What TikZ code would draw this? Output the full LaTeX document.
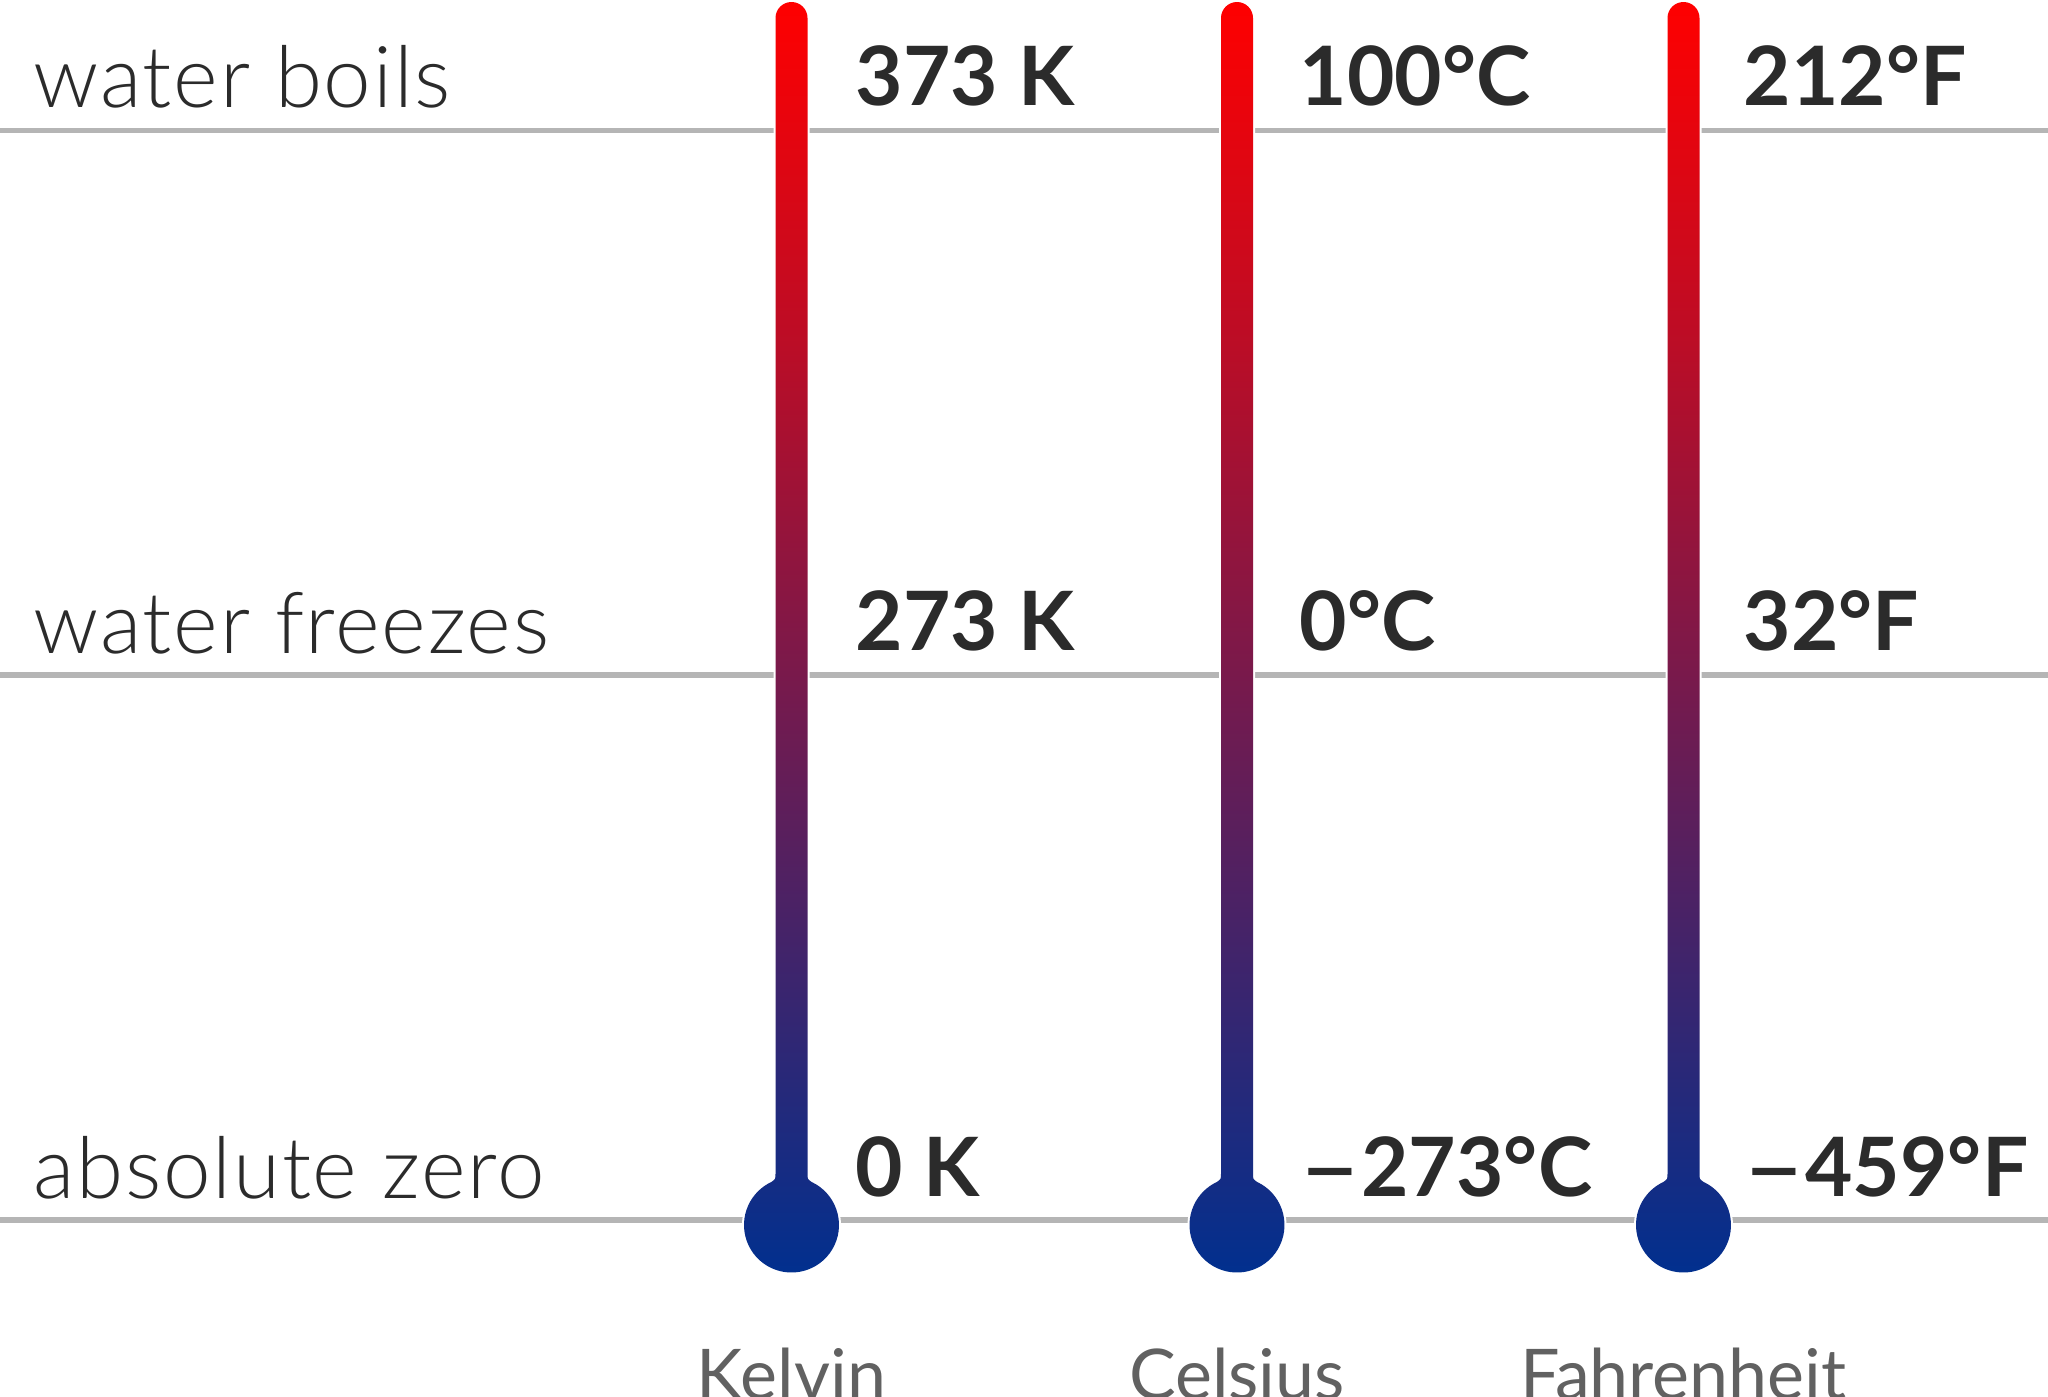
\documentclass[tikz,border=0pt]{standalone}
\usepackage{fontspec}
\setmainfont{Lato}
\newfontfamily\lightfont{Lato Light}[LetterSpace=2.0]

\definecolor{inkdark}{HTML}{2B2B2B}
\definecolor{scalegray}{HTML}{616161}
\definecolor{rulegray}{HTML}{B5B5B5}
\definecolor{hotred}{HTML}{FF0000}
\definecolor{coldblue}{HTML}{00308F}

\newcommand{\minus}{\scalebox{1.3}[1]{–}}

\begin{document}
\begin{tikzpicture}[
    event/.style={anchor=base west, inner sep=0pt, text=inkdark,
                  font=\lightfont\fontsize{24.3}{28}\selectfont},
    reading/.style={anchor=base west, inner sep=0pt, text=inkdark,
                    font=\bfseries\fontsize{23.3}{28}\selectfont},
    scalename/.style={anchor=base, inner sep=0pt, text=scalegray,
                      font=\fontsize{19.9}{24}\selectfont},
    rule/.style={draw=rulegray, line width=0.055cm},
    halo/.style={draw=white, line width=0.04cm},
    tube/.style={top color=hotred, bottom color=coldblue}]
  \useasboundingbox (0,0) rectangle (20.48,-13.96);
  % reference lines
  \foreach \y in {1.305, 6.75, 12.20}
    \draw[rule] (0,-\y) -- (20.48,-\y);
  % thermometers
  \foreach \x in {7.915, 12.37, 16.835} {
    \draw[halo] (\x-0.16,-0.18) arc[start angle=180, end angle=0, radius=0.16]
      -- (\x+0.16,-11.74) .. controls (\x+0.16,-11.79) .. (\x+0.2007,-11.8195)
      arc[start angle=65, end angle=-245, radius=0.475]
      .. controls (\x-0.16,-11.79) .. (\x-0.16,-11.74) -- cycle;
    \shade[tube] (\x-0.16,-0.18) arc[start angle=180, end angle=0, radius=0.16]
      -- (\x+0.16,-11.74) .. controls (\x+0.16,-11.79) .. (\x+0.2007,-11.8195)
      arc[start angle=65, end angle=-245, radius=0.475]
      .. controls (\x-0.16,-11.79) .. (\x-0.16,-11.74) -- cycle;
  }
  % events
  \node[event] (boil)   at (0.33,-1.075) {water boils};
  \node[event] (freeze) at (0.33,-6.53)  {water freezes};
  \node[event] (zero)   at (0.33,-11.98) {absolute zero};
  % readings
  \node[reading] (kboil)   at (8.55,-1.05)  {373 K};
  \node[reading] (kfreeze) at (8.55,-6.50)  {273 K};
  \node[reading] (kzero)   at (8.55,-11.96) {0 K};
  \node[reading] (cboil)   at (12.99,-1.05)  {100°C};
  \node[reading] (cfreeze) at (12.99,-6.50)  {0°C};
  \node[reading] (czero)   at (12.99,-11.96) {\minus273°C};
  \node[reading] (fboil)   at (17.43,-1.05)  {212°F};
  \node[reading] (ffreeze) at (17.43,-6.50)  {32°F};
  \node[reading] (fzero)   at (17.43,-11.96) {\minus459°F};
  % scale names
  \node[scalename] (kelvin)     at (7.915,-13.99)  {Kelvin};
  \node[scalename] (celsius)    at (12.37,-13.99)  {Celsius};
  \node[scalename] (fahrenheit) at (16.835,-13.99) {Fahrenheit};
\end{tikzpicture}
\end{document}
